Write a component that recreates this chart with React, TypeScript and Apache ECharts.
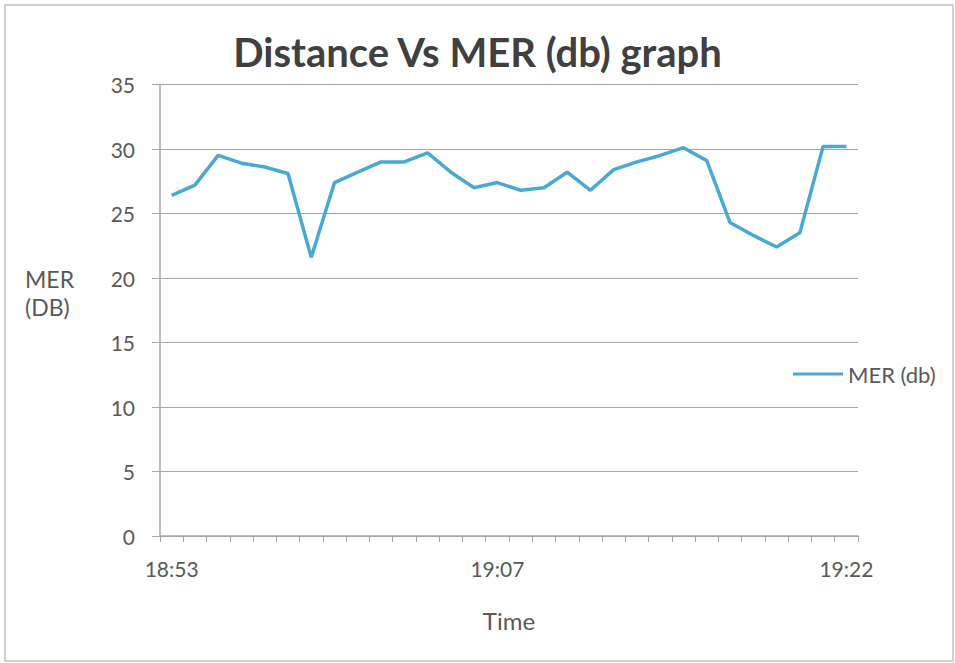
import React, { useEffect, useRef } from "react";
import * as echarts from "echarts";

const times = [
  "18:53", "18:54", "18:55", "18:56", "18:57", "18:58", "18:59", "19:00", "19:01", "19:02",
  "19:03", "19:04", "19:05", "19:06", "19:07", "19:08", "19:09", "19:10", "19:11", "19:12",
  "19:13", "19:14", "19:15", "19:16", "19:17", "19:18", "19:19", "19:20", "19:21", "19:22",
];
const merValues = [
  26.4, 27.2, 29.5, 28.9, 28.6, 28.1, 21.6, 27.4, 28.2, 29.0,
  29.0, 29.7, 28.2, 27.0, 27.4, 26.8, 27.0, 28.2, 26.8, 28.4,
  29.0, 29.5, 30.1, 29.1, 24.3, 23.3, 22.4, 23.5, 30.2, 30.2,
];
const shownLabels = [0, 14, 29];
const yTicks = { min: 0, max: 35, interval: 5 };

const FONT = "Lato, 'Open Sans', sans-serif";
const TXT = "#595959";
const GRID = "#a6a6a6";
const LINE = "#4aa9d2";

export default function App() {
  const ref = useRef<HTMLDivElement>(null);
  useEffect(() => {
    if (!ref.current) return;
    const chart = echarts.init(ref.current, null, { renderer: "svg" });
    chart.setOption({
      animation: false,
      backgroundColor: "#ffffff",
      title: {
        text: "Distance Vs MER (db) graph",
        left: "center",
        top: 27,
        textStyle: { fontFamily: FONT, fontWeight: "bold", fontSize: 40, color: "#404040" },
      },
      grid: { left: 160, right: 97, top: 84.5, bottom: 127 },
      legend: {
        left: 788,
        top: 358,
        icon: "rect",
        itemWidth: 50,
        itemHeight: 3,
        itemGap: 4,
        textStyle: { fontFamily: FONT, fontSize: 22, color: TXT },
        data: ["MER (db)"],
      },
      graphic: [
        {
          type: "rect",
          shape: { x: 5, y: 5, width: 948, height: 656 },
          style: { fill: "none", stroke: "#d0d0d0", lineWidth: 2 },
        },
        {
          type: "text",
          left: 25,
          top: 265,
          style: { text: "MER\n(DB)", fontFamily: FONT, fontSize: 23, lineHeight: 28, fill: TXT },
        },
      ],
      xAxis: {
        type: "category",
        data: times,
        boundaryGap: true,
        name: "Time",
        nameLocation: "middle",
        nameGap: 72,
        nameTextStyle: { fontFamily: FONT, fontSize: 24, color: TXT },
        axisLine: { show: true, lineStyle: { color: GRID, width: 1.5 } },
        axisTick: { show: true, interval: 0, length: 6, lineStyle: { color: GRID } },
        axisLabel: {
          interval: (idx: number) => shownLabels.includes(idx),
          margin: 22,
          fontFamily: FONT,
          fontSize: 21,
          color: TXT,
        },
        splitLine: { show: false },
      },
      yAxis: {
        type: "value",
        min: yTicks.min,
        max: yTicks.max,
        interval: yTicks.interval,
        axisLine: { show: true, lineStyle: { color: GRID, width: 1.5 } },
        axisTick: { show: true, length: 8, lineStyle: { color: GRID } },
        axisLabel: { margin: 25, fontFamily: FONT, fontSize: 21, color: TXT },
        splitLine: { show: true, lineStyle: { color: GRID, width: 1.2 } },
      },
      series: [
        {
          name: "MER (db)",
          type: "line",
          data: merValues,
          symbol: "none",
          lineStyle: { color: LINE, width: 3.5 },
          itemStyle: { color: LINE },
        },
      ],
    });
    return () => chart.dispose();
  }, []);
  return (
    <div
      ref={ref}
      style={{ position: "absolute", left: 0, top: 0, width: 955, height: 663 }}
    />
  );
}
